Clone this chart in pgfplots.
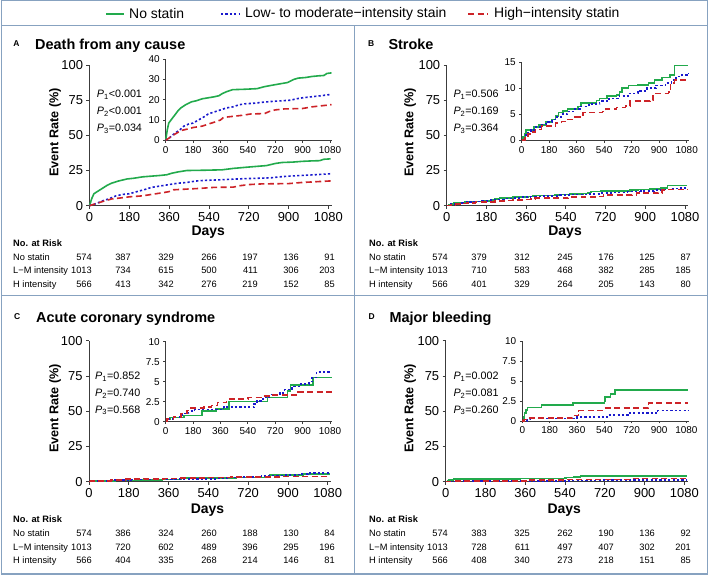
\documentclass[border=0pt]{standalone}
\usepackage{pgfplots}
\pgfplotsset{compat=1.18}
\usepackage{pgfplotstable}
\usepackage{fontspec}
\setmainfont{Liberation Sans}
\definecolor{cG}{RGB}{34,170,76}
\definecolor{cB}{RGB}{25,25,205}
\definecolor{cR}{RGB}{205,35,40}
\definecolor{axc}{RGB}{60,60,60}
\definecolor{frc}{RGB}{135,162,192}

% ---------------- data (day, event rate %) ----------------
\pgfplotstableread{
d r
0 0
10 5
20 8.5
40 10.5
60 12.5
80 14.5
100 16
130 17.5
170 19
200 19.5
240 20.5
280 21
320 21.5
350 22
370 23
400 24
440 25
520 25.2
600 25.5
650 26.5
700 27.2
760 28
800 28.5
840 30
870 30.7
920 31
960 31.5
1000 31.8
1040 32
1060 33
1090 33.3
}\gA
\pgfplotstableread{
d r
0 0
30 1.5
60 3.5
90 5
120 7
150 8
180 8.5
210 9.8
250 11.5
280 13
320 14
360 15
400 16
440 16.5
480 17.5
520 18
580 18.3
640 18.8
700 19.2
760 19.5
820 19.8
860 20.5
900 21
960 21.5
1020 22
1090 22.7
}\bA
\pgfplotstableread{
d r
0 0
30 1.5
60 3
100 4.8
140 5.5
180 6.3
240 7
280 8
330 9.2
360 10
380 11.3
440 11.8
500 12.3
560 13
650 13.2
680 14.2
720 15
780 15.5
900 15.7
960 16.5
1020 17
1090 17.6
}\rA
\pgfplotstableread{
d r
0 0
10 0.7
20 1.3
30 2
80 2.5
110 2.9
160 3.5
200 4
220 4.7
240 5.3
270 5.6
300 6
370 6.5
390 7.2
490 7.6
510 8
560 8.5
620 8.7
640 9.3
655 10
700 10.5
760 10.6
830 11
870 11.5
920 12
970 12.5
1000 14.3
1090 14.3
}\gB
\pgfplotstableread{
d r
0 0
20 1
40 1.5
60 2
90 2.6
120 3
160 3.5
200 4
230 4.5
260 5
300 5.5
340 6
380 6.5
440 7
510 7.5
570 8
640 8.5
700 9
760 9.5
820 10
880 10.5
940 11
980 11.5
1010 12.2
1050 12.5
1080 12.8
1090 12.8
}\bB
\pgfplotstableread{
d r
0 0
20 0.6
40 1.2
70 1.6
90 2.1
130 2.7
220 3.3
260 3.6
300 4
350 4.5
380 4.9
400 5.3
530 5.5
550 6
620 6.3
680 6.6
710 7.5
840 7.6
860 9
960 9.2
975 11
1000 11.5
1090 11.5
}\rB
\pgfplotstableread{
d r
0 0
10 0.3
30 0.5
120 0.75
237 1.3
330 1.6
415 2.5
668 3
800 3.8
820 4.6
970 5.5
1090 5.5
}\gC
\pgfplotstableread{
d r
0 0
20 0.3
60 0.6
110 1
150 1.3
190 1.5
380 1.8
580 2.2
600 2.6
640 3
680 3.4
750 3.6
780 4
830 4.4
880 4.7
940 5
960 5.5
990 6.2
1090 6.2
}\bC
\pgfplotstableread{
d r
0 0
10 0.3
50 0.6
100 1
140 1.4
165 1.7
250 1.8
300 2
340 2.4
400 2.8
540 3
640 3.2
700 3.3
870 3.7
1090 3.7
}\rC
\pgfplotstableread{
d r
0 0
10 0.5
15 1
25 1.4
35 1.7
125 2
335 2.25
540 2.5
545 3
580 3.4
610 3.85
1090 3.85
}\gD
\pgfplotstableread{
d r
0 0
30 0.2
50 0.3
360 0.5
560 0.75
700 1.0
890 1.3
1090 1.3
}\bD
\pgfplotstableread{
d r
0 0
10 0.2
40 0.4
330 0.7
370 1.3
540 1.6
830 2.25
1090 2.25
}\rD

% ---------------- styles ----------------
\tikzset{
  lG/.style={cG, line width=1.6bp, solid},
  lB/.style={cB, line width=1.6bp, dash pattern=on 2.2bp off 2.2bp},
  lR/.style={cR, line width=1.6bp, dash pattern=on 6bp off 3.5bp},
}
\pgfplotsset{
  km/.style={scale only axis, axis lines=left,
    axis line style={-, draw=axc, line width=0.8bp},
    tick style={draw=axc, line width=0.8bp}, tick align=outside,
    major tick length=3bp,
    xmin=0, xmax=1095, ymin=0, enlargelimits=false, clip=false,
    xtick={0,180,360,540,720,900,1080},
    xticklabels={0,180,360,540,720,900,1080},
    /pgf/number format/assume math mode=true,
    anchor=south west},
  kmmain/.style={km, ymax=100,
    ytick={0,25,50,75,100}, yticklabels={0,25,50,75,100},
    tick label style={font=\fontsize{13}{15}\selectfont},
    xlabel={Days}, ylabel={Event Rate (\%)},
    xlabel style={font=\bfseries\fontsize{14}{16}\selectfont, anchor=center},
    ylabel style={font=\bfseries\fontsize{12.7}{14}\selectfont, anchor=center}},
  kmin/.style={km, major tick length=2.5bp,
    tick label style={font=\fontsize{10}{12}\selectfont}},
}
\newcommand\ftitle{\bfseries\fontsize{14.5}{16}\selectfont}
\newcommand\fletter{\bfseries\fontsize{8.5}{10}\selectfont}
\newcommand\fp{\fontsize{10.8}{12}\selectfont}
\newcommand\ftab{\fontsize{9.3}{11}\selectfont}
\newcommand\fleg{\fontsize{14}{16}\selectfont}
\newcommand\Pv[2]{\textit{P}\textsubscript{#1}#2}
\newcommand\riskrow[9]{%
  \node[anchor=base west,inner sep=0] at (13,#1) {\ftab #2};
  \node[anchor=base east,inner sep=0] at (92,#1) {\ftab #3};
  \node[anchor=base east,inner sep=0] at (131,#1) {\ftab #4};
  \node[anchor=base east,inner sep=0] at (174,#1) {\ftab #5};
  \node[anchor=base east,inner sep=0] at (217,#1) {\ftab #6};
  \node[anchor=base east,inner sep=0] at (258,#1) {\ftab #7};
  \node[anchor=base east,inner sep=0] at (299,#1) {\ftab #8};
  \node[anchor=base east,inner sep=0] at (335,#1) {\ftab #9};
}
\newcommand\pvals[5]{% x, y1, P1, P2, P3
  \node[anchor=base west,inner sep=0] at (#1,#2) {\fp\Pv{1}{#3}};
  \node[anchor=base west,inner sep=0] at (#1,#2-16.7) {\fp\Pv{2}{#4}};
  \node[anchor=base west,inner sep=0] at (#1,#2-33.4) {\fp\Pv{3}{#5}};
}

\begin{document}
\begin{tikzpicture}[x=1bp,y=1bp]
\path[use as bounding box] (0,0) rectangle (709,576);
% anchor points of the axes
\coordinate (mA) at (89.5,370.3);
\coordinate (iA) at (165.7,435.7);
\coordinate (mB) at (446.7,370.3);
\coordinate (iB) at (521.7,435.7);
\coordinate (mC) at (89,94.3);
\coordinate (iC) at (165.7,154.3);
\coordinate (mD) at (445.7,94.3);
\coordinate (iD) at (522.3,155);
% frames
\draw[frc, line width=1.2bp] (1.3,2) rectangle (707.6,575.3);
\draw[frc, line width=1.2bp] (1.3,550.5) -- (707.6,550.5);
\draw[frc, line width=1.2bp] (354.5,2) -- (354.5,550.5);
\draw[frc, line width=1.2bp] (1.3,280.5) -- (707.6,280.5);

% legend
\draw[lG] (106,562) -- (124,562);
\node[anchor=west,inner sep=0] at (129,562) {\fleg No statin};
\draw[lB] (221,562) -- (240,562);
\node[anchor=west,inner sep=0] at (245,562) {\fleg Low- to moderate−intensity stain};
\draw[lR] (468,562) -- (488,562);
\node[anchor=west,inner sep=0] at (494,562) {\fleg High−intensity statin};

% ================= Panel A =================
\node[anchor=base west,inner sep=0] at (13.3,529.3) {\fletter A};
\node[anchor=base west,inner sep=0] at (35,526.7) {\ftitle Death from any cause};
\begin{axis}[kmmain, at={(mA)}, width=242.2bp, height=140.7bp,
  xlabel style={at={(axis description cs:0.49,-0.19)}},
  ylabel style={at={(axis description cs:-0.1424,0.52)}}]
  \addplot[lG] table[x=d,y=r]{\gA};
  \addplot[lB] table[x=d,y=r]{\bA};
  \addplot[lR] table[x=d,y=r]{\rA};
\end{axis}
\begin{axis}[kmin, at={(iA)}, width=166.6bp, height=81bp, ymax=40,
  ytick={0,10,20,30,40}, yticklabels={0,10,20,30,40}]
  \addplot[lG] table[x=d,y=r]{\gA};
  \addplot[lB] table[x=d,y=r]{\bA};
  \addplot[lR] table[x=d,y=r]{\rA};
\end{axis}
\pvals{96.7}{478}{<0.001}{<0.001}{=0.034}
\node[anchor=base west,inner sep=0] at (13,329) {\ftab\bfseries No. at Risk};
\riskrow{315.5}{No statin}{574}{387}{329}{266}{197}{136}{91}
\riskrow{302}{L−M intensity}{1013}{734}{615}{500}{411}{306}{203}
\riskrow{288.5}{H intensity}{566}{413}{342}{276}{219}{152}{85}

% ================= Panel B =================
\node[anchor=base west,inner sep=0] at (368,529.3) {\fletter B};
\node[anchor=base west,inner sep=0] at (388.3,526.7) {\ftitle Stroke};
\begin{axis}[kmmain, at={(mB)}, width=241.6bp, height=140.7bp,
  xlabel style={at={(axis description cs:0.49,-0.19)}},
  ylabel style={at={(axis description cs:-0.152,0.52)}}]
  \addplot[lG, const plot] table[x=d,y=r]{\gB};
  \addplot[lB, const plot] table[x=d,y=r]{\bB};
  \addplot[lR, const plot] table[x=d,y=r]{\rB};
\end{axis}
\begin{axis}[kmin, at={(iB)}, width=167.3bp, height=78.3bp, ymax=15,
  ytick={0,5,10,15}, yticklabels={0,5,10,15}]
  \addplot[lG, const plot] table[x=d,y=r]{\gB};
  \addplot[lB, const plot] table[x=d,y=r]{\bB};
  \addplot[lR, const plot] table[x=d,y=r]{\rB};
\end{axis}
\pvals{453.3}{478}{=0.506}{=0.169}{=0.364}
\begin{scope}[xshift=356bp]
\node[anchor=base west,inner sep=0] at (13,329) {\ftab\bfseries No. at Risk};
\riskrow{315.5}{No statin}{574}{379}{312}{245}{176}{125}{87}
\riskrow{302}{L−M intensity}{1013}{710}{583}{468}{382}{285}{185}
\riskrow{288.5}{H intensity}{566}{401}{329}{264}{205}{143}{80}
\end{scope}

% ================= Panel C =================
\node[anchor=base west,inner sep=0] at (14,256) {\fletter C};
\node[anchor=base west,inner sep=0] at (36,253.3) {\ftitle Acute coronary syndrome};
\begin{axis}[kmmain, at={(mC)}, width=242bp, height=141bp,
  xlabel style={at={(axis description cs:0.49,-0.2)}},
  ylabel style={at={(axis description cs:-0.1405,0.52)}}]
  \addplot[lG, const plot] table[x=d,y=r]{\gC};
  \addplot[lB, const plot] table[x=d,y=r]{\bC};
  \addplot[lR, const plot] table[x=d,y=r]{\rC};
\end{axis}
\begin{axis}[kmin, at={(iC)}, width=166.6bp, height=80bp, ymax=10,
  ytick={0,2.5,5,7.5,10}, yticklabels={0,2.5,5,7.5,10}]
  \addplot[lG, const plot] table[x=d,y=r]{\gC};
  \addplot[lB, const plot] table[x=d,y=r]{\bC};
  \addplot[lR, const plot] table[x=d,y=r]{\rC};
\end{axis}
\pvals{95}{196.3}{=0.852}{=0.740}{=0.568}
\node[anchor=base west,inner sep=0] at (13,53.2) {\ftab\bfseries No. at Risk};
\riskrow{39.2}{No statin}{574}{386}{324}{260}{188}{130}{84}
\riskrow{25.8}{L−M intensity}{1013}{720}{602}{489}{396}{295}{196}
\riskrow{12.5}{H intensity}{566}{404}{335}{268}{214}{146}{81}

% ================= Panel D =================
\node[anchor=base west,inner sep=0] at (368.3,256) {\fletter D};
\node[anchor=base west,inner sep=0] at (389.3,253.3) {\ftitle Major bleeding};
\begin{axis}[kmmain, at={(mD)}, width=242bp, height=141bp,
  xlabel style={at={(axis description cs:0.49,-0.2)}},
  ylabel style={at={(axis description cs:-0.1475,0.52)}}]
  \addplot[lG, const plot] table[x=d,y=r]{\gD};
  \addplot[lB, const plot] table[x=d,y=r]{\bD};
  \addplot[lR, const plot] table[x=d,y=r]{\rD};
\end{axis}
\begin{axis}[kmin, at={(iD)}, width=166.4bp, height=80bp, ymax=10,
  ytick={0,2.5,5,7.5,10}, yticklabels={0,2.5,5,7.5,10}]
  \addplot[lG, const plot] table[x=d,y=r]{\gD};
  \addplot[lB, const plot] table[x=d,y=r]{\bD};
  \addplot[lR, const plot] table[x=d,y=r]{\rD};
\end{axis}
\pvals{453.3}{196.3}{=0.002}{=0.081}{=0.260}
\begin{scope}[xshift=356bp]
\node[anchor=base west,inner sep=0] at (13,53.2) {\ftab\bfseries No. at Risk};
\riskrow{39.2}{No statin}{574}{383}{325}{262}{190}{136}{92}
\riskrow{25.8}{L−M intensity}{1013}{728}{611}{497}{407}{302}{201}
\riskrow{12.5}{H intensity}{566}{408}{340}{273}{218}{151}{85}
\end{scope}
\end{tikzpicture}
\end{document}
